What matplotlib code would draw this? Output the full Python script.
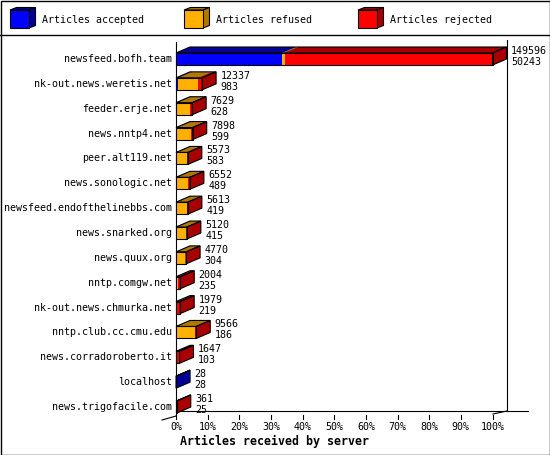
import matplotlib
matplotlib.use('Agg')
import matplotlib.pyplot as plt
from matplotlib.patches import Polygon, Rectangle

# data
hosts = ['newsfeed.bofh.team', 'nk-out.news.weretis.net', 'feeder.erje.net',
         'news.nntp4.net', 'peer.alt119.net', 'news.sonologic.net',
         'newsfeed.endofthelinebbs.com', 'news.snarked.org', 'news.quux.org',
         'nntp.comgw.net', 'nk-out.news.chmurka.net', 'nntp.club.cc.cmu.edu',
         'news.corradoroberto.it', 'localhost', 'news.trigofacile.com']
total = [149596, 12337, 7629, 7898, 5573, 6552, 5613, 5120, 4770, 2004, 1979, 9566, 1647, 28, 361]
accepted = [50243, 983, 628, 599, 583, 489, 419, 415, 304, 235, 219, 186, 103, 28, 25]
refused = [1100, 9400, 6100, 6300, 4900, 5400, 4700, 4600, 4200, 700, 400, 8800, 500, 0, 0]
rejected = [98253, 1954, 901, 999, 90, 663, 494, 105, 266, 1069, 1360, 580, 1044, 0, 336]
series_names = ['Articles accepted', 'Articles refused', 'Articles rejected']
tick_vals = [0, 10, 20, 30, 40, 50, 60, 70, 80, 90, 100]

face = ['#0000ff', '#ffb000', '#ff0000']
shade = ['#000096', '#b07800', '#a80000']
mono = 'DejaVu Sans Mono'
fs = 7.2

# pixel <-> data helpers
X0 = 176
PPP = 3.165
Y0 = 59
RS = 24.86
def px(x):
    return (x - X0) / PPP
def py(y):
    return (y - Y0) / RS

DX = 14 / PPP
DY = -6 / RS
H = 6 / RS

fig = plt.figure(figsize=(5.5, 4.55), dpi=100)
lax = fig.add_axes([0, 0, 1, 1])
lax.set_xlim(0, 550)
lax.set_ylim(455, 0)
lax.axis('off')
ax = fig.add_axes([0, 0, 1, 1])
ax.set_xlim(px(0), px(550))
ax.set_ylim(py(455), py(0))
ax.axis('off')

# border and legend
lax.add_patch(Rectangle((0.5, 0.5), 549, 454, fill=False, lw=1, ec='black', clip_on=False))
lax.plot([0, 550], [35, 35], color='black', lw=1)
for k, x in enumerate([10, 184, 358]):
    lax.add_patch(Polygon([(x, 10), (x + 6.5, 7.5), (x + 25.5, 7.5), (x + 19, 10)],
                          fc=shade[k], ec='black', lw=0.8))
    lax.add_patch(Polygon([(x + 19, 10), (x + 25.5, 7.5), (x + 25.5, 25.5), (x + 19, 28)],
                          fc=shade[k], ec='black', lw=0.8))
    lax.add_patch(Rectangle((x, 10), 19, 18, fc=face[k], ec='black', lw=0.8))
    lax.text(x + 32, 20, series_names[k], family=mono, fontsize=fs, va='center', ha='left')

# axis frame
lax.plot([176, 176], [42, 416], color='black', lw=0.8)
lax.plot([162, 176], [420, 416], color='black', lw=0.8)
lax.plot([176, 528], [411, 411], color='black', lw=0.8)
lax.plot([493, 507], [414, 411], color='black', lw=0.8)
lax.plot([507, 507], [40, 411], color='black', lw=0.8)

for t in tick_vals:
    ax.plot([t, t], [py(415), py(419)], color='black', lw=0.8)
    ax.text(t, py(427), '%d%%' % t, family=mono, fontsize=fs, ha='center', va='center')
lax.text(275, 441, 'Articles received by server', family=mono, fontsize=8.4,
         fontweight='bold', ha='center', va='center')

# bars
mx = max(total)
for i in range(len(hosts)):
    vals = [accepted[i], refused[i], rejected[i]]
    start = 0
    for k, v in enumerate(vals):
        if v == 0:
            continue
        w = v / mx * 100
        x0, x1 = start, start + w
        ax.add_patch(Polygon([(x0, i - H), (x1, i - H), (x1 + DX, i - H + DY), (x0 + DX, i - H + DY)],
                             fc=shade[k], ec='none'))
        ax.add_patch(Polygon([(x1, i - H), (x1, i + H), (x1 + DX, i + H + DY), (x1 + DX, i - H + DY)],
                             fc=shade[k], ec='none'))
        ax.add_patch(Rectangle((x0, i - H), w, 2 * H, fc=face[k], ec='none'))
        start = x1
    tw = start
    ax.add_patch(Rectangle((0, i - H), tw, 2 * H, fill=False, ec='black', lw=0.8))
    ax.add_patch(Polygon([(0, i - H), (tw, i - H), (tw + DX, i - H + DY), (DX, i - H + DY)],
                         fill=False, ec='black', lw=0.8))
    ax.add_patch(Polygon([(tw, i - H), (tw, i + H), (tw + DX, i + H + DY), (tw + DX, i - H + DY)],
                         fill=False, ec='black', lw=0.8))
    ax.text(-4 / PPP, i, hosts[i], family=mono, fontsize=fs, ha='right', va='center')
    ax.text(tw + DX + 4.5 / PPP, i - 8 / RS, str(total[i]), family=mono, fontsize=fs, va='center')
    ax.text(tw + DX + 4.5 / PPP, i + 3 / RS, str(accepted[i]), family=mono, fontsize=fs, va='center')

fig.savefig('out.png', dpi=100)
